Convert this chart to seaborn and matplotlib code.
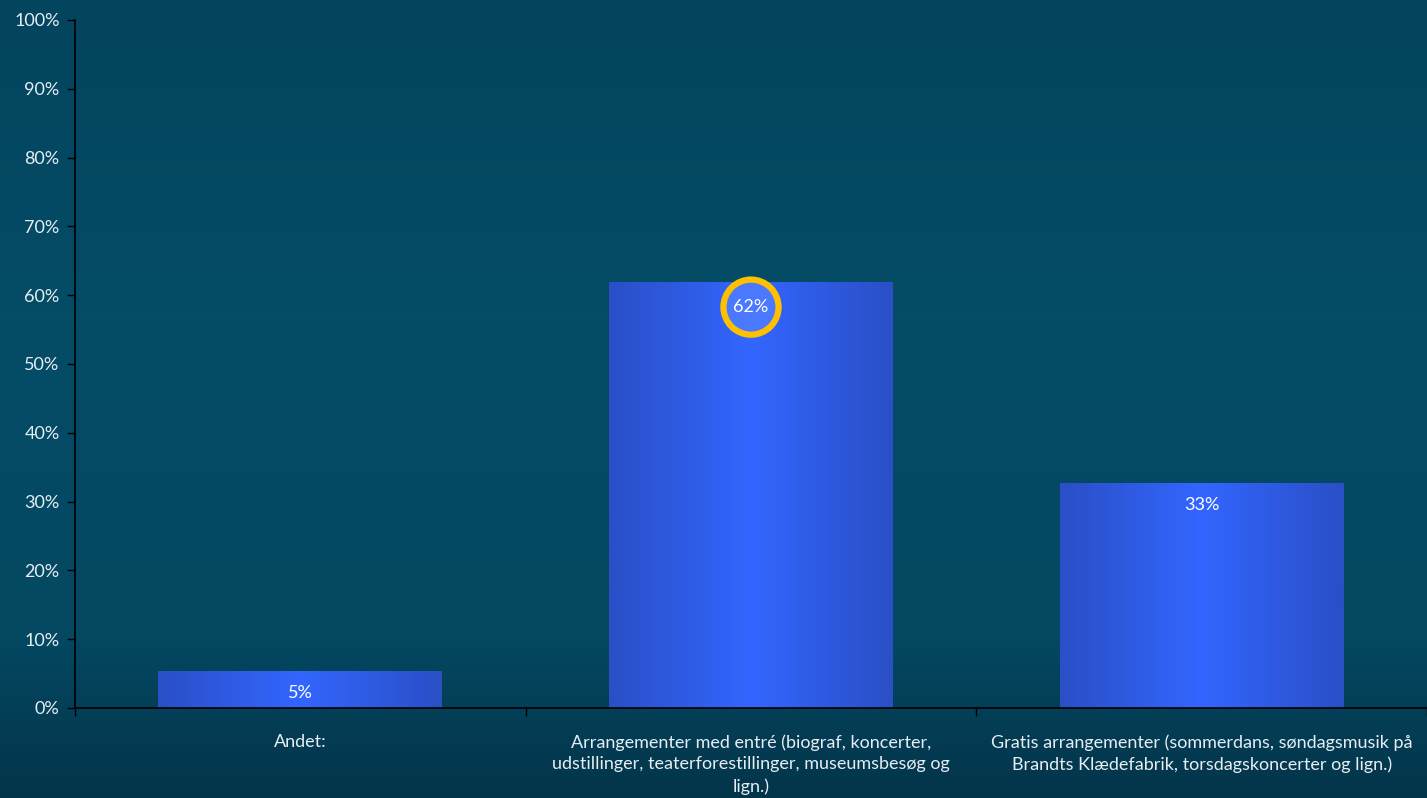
import numpy as np
import pandas as pd
import matplotlib
matplotlib.use("Agg")
import matplotlib.pyplot as plt
import seaborn as sns
from matplotlib.colors import LinearSegmentedColormap
from matplotlib.ticker import FuncFormatter, FixedLocator

categories = [
    "Andet:",
    "Arrangementer med entré (biograf, koncerter,\nudstillinger, teaterforestillinger, museumsbesøg og\nlign.)",
    "Gratis arrangementer (sommerdans, søndagsmusik på\nBrandts Klædefabrik, torsdagskoncerter og lign.)",
]
values = [5.4, 61.9, 32.7]
value_labels = ["5%", "62%", "33%"]
highlight = 1

df = pd.DataFrame({"category": categories, "share": values})

sns.set_style("white")
plt.rcParams["font.family"] = ["Lato", "DejaVu Sans"]

fig = plt.figure(figsize=(14.27, 7.98), dpi=100)

# background gradient
bg = fig.add_axes([0, 0, 1, 1], zorder=0)
bg_cmap = LinearSegmentedColormap.from_list(
    "bg", [(0, "#03455f"), (0.4, "#054c66"), (0.8, "#044862"), (1, "#03354a")])
bg.imshow(np.linspace(0, 1, 256).reshape(-1, 1), aspect="auto", cmap=bg_cmap,
          extent=[0, 1, 0, 1], origin="upper")
bg.axis("off")

ax = fig.add_axes([75 / 1427, 1 - 708 / 798, 1 - 75 / 1427, (708 - 20) / 798], zorder=1)
ax.patch.set_alpha(0)

sns.barplot(data=df, x="category", y="share", width=0.63, color="#3366ff",
            ax=ax, saturation=1)

bar_cmap = LinearSegmentedColormap.from_list("bar", ["#2a4fc6", "#3366ff", "#2a4fc6"])
grad = np.linspace(0, 1, 256).reshape(1, -1)
for p in ax.patches:
    x0, y0 = p.get_x(), p.get_y()
    w, h = p.get_width(), p.get_height()
    p.set_facecolor("none")
    p.set_edgecolor("none")
    im = ax.imshow(grad, aspect="auto", cmap=bar_cmap, extent=[x0, x0 + w, y0, y0 + h],
                   zorder=2)
    im.set_clip_path(p)

ax.set_xlim(-0.5, 2.5)
ax.set_ylim(0, 100)

for i, (v, lab) in enumerate(zip(values, value_labels)):
    if i == highlight:
        ax.annotate(lab, (i, v), xytext=(0, -18), textcoords="offset points",
                    ha="center", va="center", color="white", fontsize=13, zorder=4,
                    bbox=dict(boxstyle="circle,pad=0.55", fc="#4a78ff", ec="#ffc000", lw=4.5))
    else:
        ax.annotate(lab, (i, v), xytext=(0, -16), textcoords="offset points",
                    ha="center", va="center", color="white", fontsize=13, zorder=4)

ax.yaxis.set_major_locator(FixedLocator(np.arange(0, 101, 10)))
ax.yaxis.set_major_formatter(FuncFormatter(lambda y, _: f"{int(y)}%"))
ax.set_xticks(range(len(categories)))
ax.set_xticklabels(categories, linespacing=1.42)
ax.set_xticks([-0.5, 0.5, 1.5, 2.5], minor=True)
ax.tick_params(axis="x", which="major", length=0, pad=19, labelsize=13, colors="#e6eef4")
ax.tick_params(axis="x", which="minor", length=6, width=1, color="black", direction="out",
               bottom=True)
ax.tick_params(axis="y", length=6, width=1, color="black", direction="out", left=True,
               labelsize=13, labelcolor="#e6eef4", pad=5)
ax.set_xlabel("")
ax.set_ylabel("")

sns.despine(ax=ax, top=True, right=True)
for s in ["left", "bottom"]:
    ax.spines[s].set_color("black")
    ax.spines[s].set_linewidth(1.2)
    ax.spines[s].set_zorder(5)

fig.savefig("out.png", dpi=100)
